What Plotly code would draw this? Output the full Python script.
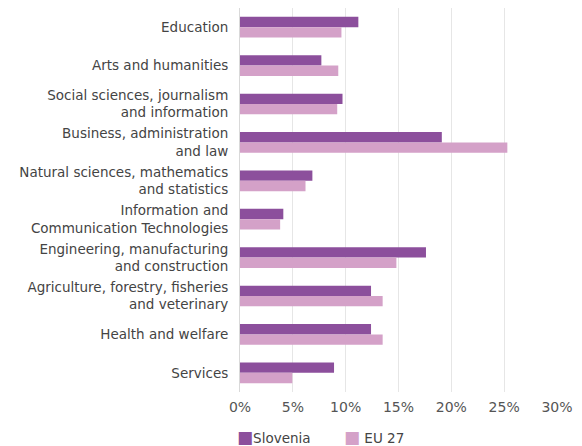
import plotly.graph_objects as go

categories = [
    "Education",
    "Arts and humanities",
    "Social sciences, journalism<br>and information",
    "Business, administration<br>and law",
    "Natural sciences, mathematics<br>and statistics",
    "Information and<br>Communication Technologies",
    "Engineering, manufacturing<br>and construction",
    "Agriculture, forestry, fisheries<br>and veterinary",
    "Health and welfare",
    "Services",
]
slovenia = [11.2, 7.7, 9.7, 19.1, 6.85, 4.1, 17.6, 12.4, 12.4, 8.9]
eu27 = [9.6, 9.3, 9.2, 25.3, 6.2, 3.8, 14.8, 13.5, 13.5, 4.95]
tick_vals = [0, 5, 10, 15, 20, 25, 30]
tick_text = ["0%", "5%", "10%", "15%", "20%", "25%", "30%"]
series_names = ["Slovenia", "EU 27"]
series_colors = ["#8C4F9C", "#D4A1C8"]

FONT = "DejaVu Sans"

fig = go.Figure()
for name, vals, col in zip(series_names, [slovenia, eu27], series_colors):
    fig.add_trace(go.Bar(y=categories, x=vals, name=name, orientation="h",
                         marker=dict(color=col, line=dict(width=0))))

# legend drawn as text entries
legend_x = [0.0, 0.337]
legend_gap = ["", "&nbsp;"]
for name, col, lx, gap in zip(series_names, series_colors, legend_x, legend_gap):
    fig.add_annotation(
        xref="paper", yref="paper", x=lx, y=-0.117, xanchor="left", yanchor="middle",
        text=f"<span style='color:{col};font-size:17px'>■</span>{gap}{name}", showarrow=False,
        font=dict(family=FONT, size=13.5, color="#444444"), xshift=-5,
    )

fig.update_layout(
    width=582, height=446,
    margin=dict(l=240, r=25, t=8, b=54, autoexpand=False),
    barmode="group", bargap=0.46, bargroupgap=0,
    plot_bgcolor="white", paper_bgcolor="white",
    font=dict(family=FONT, size=13.5, color="#444444"),
    showlegend=False,
    xaxis=dict(range=[0, 30], tickvals=tick_vals, ticktext=tick_text,
               showgrid=True, gridcolor="#e6e6e6", gridwidth=1, zeroline=False,
               showline=False, tickfont=dict(family=FONT, size=14, color="#555555"),
               ticks="", ticklabelstandoff=5),
    yaxis=dict(autorange="reversed", showline=True, linecolor="#d9d9d9", linewidth=1,
               ticks="", ticklabelstandoff=8, tickfont=dict(family=FONT, size=13.5, color="#444444")),
)
fig.write_html("out.html")
